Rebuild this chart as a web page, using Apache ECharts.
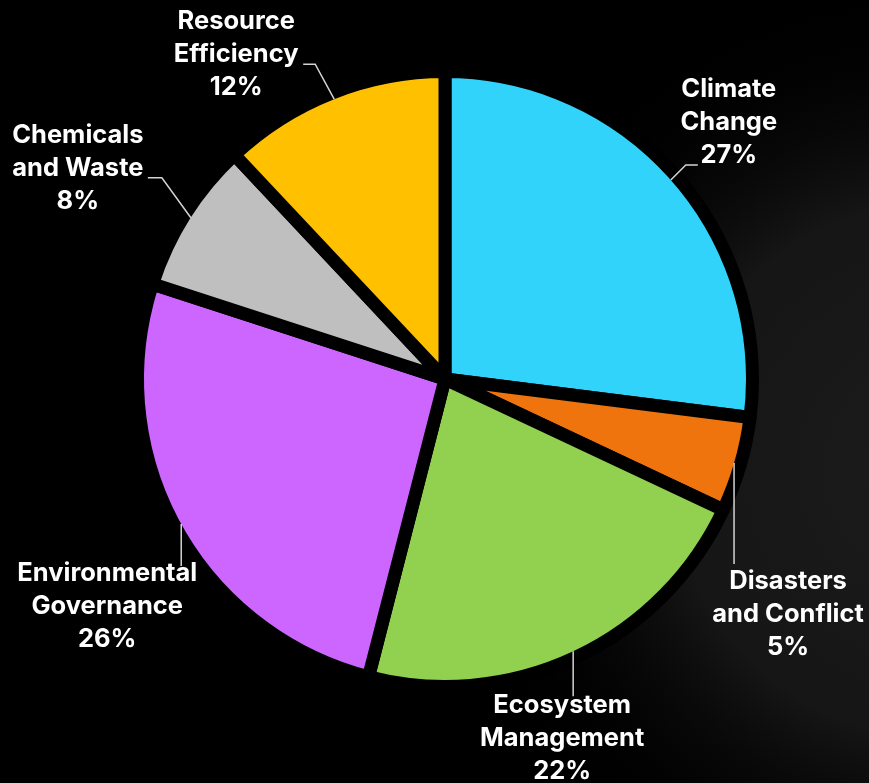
<!DOCTYPE html>
<html>
<head>
<meta charset="utf-8">
<title>Programme of work by subprogramme</title>
<script src="https://cdn.jsdelivr.net/npm/echarts@6/dist/echarts.min.js"></script>
<style>
  html, body { margin: 0; padding: 0; background: #000; }
  #chart { width: 869px; height: 783px; }
</style>
</head>
<body>
<div id="chart"></div>
<script>
// Subprogramme shares, clockwise from twelve o'clock
const categories = ['Climate Change', 'Disasters and Conflict', 'Ecosystem Management',
                    'Environmental Governance', 'Chemicals and Waste', 'Resource Efficiency'];
const labelText = [['Climate', 'Change'], ['Disasters', 'and Conflict'], ['Ecosystem', 'Management'],
                   ['Environmental', 'Governance'], ['Chemicals', 'and Waste'], ['Resource', 'Efficiency']];
const shares = [27, 5, 22, 26, 8, 12];
const colors = ['#31D3FA', '#EF740E', '#92D050', '#CC66FF', '#BFBFBF', '#FFC000'];

// Pie geometry
const CENTER = [445, 379];
const BORDER = 13;          // black gap between slices
const RIM = 301;            // visible radius of the coloured slices

// Label placement: label centre relative to the slice's outer mid-point,
// and where the leader line meets the text block.
//   bend == null -> straight leader down/up to the text (endY from label centre)
//   otherwise    -> leader ends at `end` (from label centre) after a horizontal run of `bend`
const labelPlacement = [
  { offset: [58, -58], end: [-31, 43], bend: -12 },
  { offset: [54, 151], endY: -50 },
  { offset: [-11, 87], endY: -42 },
  { offset: [-74, 82], endY: -40 },
  { offset: [-113, -49], end: [70, 9], bend: 14 },
  { offset: [-98, -45], end: [67, 10], bend: 12 }
];

const chart = echarts.init(document.getElementById('chart'), null, { renderer: 'canvas' });

const pieData = categories.map((name, i) => ({ name: name, value: shares[i] }));

const option = {
  backgroundColor: '#000',
  animation: false,
  graphic: [{
    type: 'rect',
    z: -10,
    silent: true,
    shape: { x: 0, y: 0, width: 869, height: 783 },
    style: {
      fill: {
        type: 'radial', x: 1.08, y: 0.6, r: 0.62,
        colorStops: [
          { offset: 0, color: 'rgba(28,28,28,1)' },
          { offset: 0.55, color: 'rgba(24,24,24,0.9)' },
          { offset: 1, color: 'rgba(0,0,0,0)' }
        ]
      }
    }
  }],
  series: [
    // coloured slices, separated by a thick black outline
    {
      type: 'pie',
      z: 2,
      center: CENTER,
      radius: RIM + BORDER / 2,
      startAngle: 90,
      clockwise: true,
      data: pieData.map((d, i) => ({ ...d, itemStyle: { color: colors[i] } })),
      itemStyle: { borderColor: '#000', borderWidth: BORDER, borderJoin: 'round' },
      emphasis: { disabled: true },
      label: { show: false },
      labelLine: { show: false }
    },
    // labels and leader lines, drawn on top of the slices
    {
      type: 'pie',
      z: 5,
      silent: true,
      center: CENTER,
      radius: RIM,
      startAngle: 90,
      clockwise: true,
      avoidLabelOverlap: false,
      data: pieData,
      itemStyle: { color: 'rgba(0,0,0,0)', borderWidth: 0 },
      emphasis: { disabled: true },
      label: {
        show: true,
        position: 'outside',
        color: '#fff',
        fontFamily: 'Inter',
        fontWeight: 'bold',
        fontSize: 25.5,
        lineHeight: 33,
        align: 'center',
        formatter: p => labelText[p.dataIndex].join('\n') + '\n' + shares[p.dataIndex] + '%'
      },
      labelLine: {
        show: true,
        showAbove: true,
        length: 20,
        length2: 12,
        lineStyle: { color: '#d4d4d4', width: 1.5 }
      },
      labelLayout: function (p) {
        const place = labelPlacement[p.dataIndex];
        const pts = p.labelLinePoints;
        if (!place || !pts) return {};
        const ax = pts[0][0], ay = pts[0][1];
        const cx = ax + place.offset[0];
        const cy = ay + place.offset[1];
        let end, elbow;
        if (place.bend == null) {
          end = [ax, cy + place.endY];
          elbow = end;
        } else {
          end = [cx + place.end[0], cy + place.end[1]];
          elbow = [end[0] + place.bend, end[1]];
        }
        return {
          x: cx,
          y: cy,
          align: 'center',
          verticalAlign: 'middle',
          labelLinePoints: [[ax, ay], elbow, end]
        };
      }
    }
  ]
};

chart.setOption(option);
</script>
</body>
</html>
